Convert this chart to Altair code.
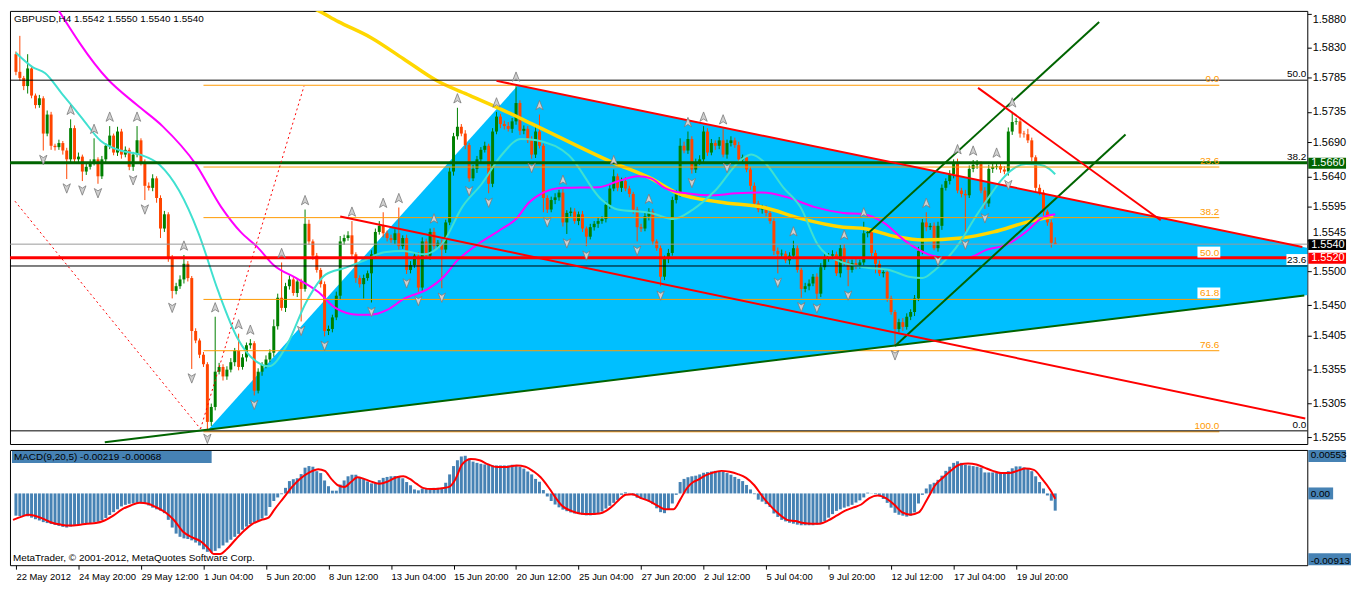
import altair as alt
import numpy as np
import pandas as pd

FONT = "Liberation Sans"
W, H_MAIN, H_MACD = 1306, 436, 116
X_DOMAIN = [-0.25, 329.25]
Y_DOMAIN = [1.52454, 1.58838]
M_DOMAIN = [-0.00913, 0.00553]

BULL, BEAR = "#008000", "#FF4500"
ORANGE = "#FF9900"
STEEL = "#4682B4"

# ---------------- price bars (H4), prices in 1/10000 ----------------
FIRST_OPEN = 15820
CLOSES = [
    15794, 15785, 15773, 15799, 15759, 15745, 15755, 15703, 15731, 15685,
    15683, 15689, 15678, 15665, 15711, 15665, 15669, 15647, 15654, 15661,
    15665, 15640, 15665, 15685, 15700, 15675, 15706, 15672, 15679, 15654,
    15672, 15693, 15661, 15626, 15623, 15637, 15608, 15563, 15584, 15520,
    15471, 15478, 15488, 15511, 15490, 15412, 15398, 15377, 15363, 15278,
    15300, 15352, 15359, 15345, 15355, 15366, 15383, 15359, 15373, 15391,
    15394, 15324, 15352, 15362, 15370, 15380, 15419, 15461, 15446, 15478,
    15488, 15468, 15485, 15474, 15570, 15544, 15523, 15502, 15481, 15412,
    15415, 15432, 15464, 15544, 15549, 15553, 15525, 15490, 15481, 15490,
    15497, 15525, 15558, 15567, 15556, 15549, 15546, 15556, 15537, 15549,
    15502, 15509, 15523, 15476, 15544, 15523, 15558, 15537, 15542, 15532,
    15572, 15647, 15699, 15713, 15703, 15686, 15637, 15651, 15665, 15679,
    15685, 15629, 15706, 15728, 15717, 15714, 15710, 15721, 15748, 15707,
    15710, 15693, 15672, 15706, 15685, 15608, 15591, 15605, 15609, 15616,
    15572, 15586, 15588, 15574, 15584, 15563, 15551, 15565, 15570, 15574,
    15577, 15598, 15622, 15640, 15623, 15633, 15622, 15614, 15591, 15565,
    15563, 15581, 15588, 15544, 15534, 15492, 15518, 15527, 15605, 15616,
    15685, 15678, 15695, 15650, 15661, 15665, 15706, 15675, 15689, 15685,
    15693, 15672, 15689, 15693, 15686, 15665, 15668, 15650, 15626, 15600,
    15591, 15593, 15586, 15574, 15530, 15525, 15526, 15516, 15523, 15534,
    15502, 15474, 15478, 15482, 15492, 15467, 15506, 15520, 15523, 15525,
    15497, 15534, 15513, 15502, 15512, 15509, 15513, 15556, 15558, 15527,
    15511, 15497, 15499, 15460, 15440, 15415, 15425, 15418, 15433, 15440,
    15460, 15530, 15572, 15565, 15567, 15534, 15567, 15623, 15633, 15643,
    15661, 15619, 15614, 15612, 15651, 15657, 15658, 15619, 15600, 15651,
    15654, 15655, 15650, 15647, 15706, 15720, 15721, 15703, 15702, 15693,
    15668, 15623, 15616, 15588, 15572, 15542, 15540,
]
# upper / lower shadow lengths in pips
WICK_UP = [
    4, 53, 3, 21, 4, 3, 5, 3, 6, 4,
    3, 5, 3, 4, 13, 4, 6, 3, 5, 4,
    31, 3, 5, 4, 14, 3, 7, 4, 5, 3,
    4, 21, 3, 4, 5, 6, 3, 4, 5, 3,
    4, 5, 6, 13, 4, 3, 4, 3, 4, 3,
    5, 81, 6, 4, 5, 6, 4, 25, 5, 4,
    6, 3, 5, 4, 6, 5, 10, 6, 52, 5,
    6, 4, 5, 4, 21, 6, 3, 4, 3, 4,
    5, 4, 6, 8, 5, 6, 21, 3, 4, 5,
    4, 6, 5, 7, 20, 4, 5, 6, 38, 4,
    5, 6, 4, 5, 6, 4, 5, 6, 4, 5,
    4, 6, 5, 28, 4, 5, 3, 6, 5, 4,
    6, 3, 5, 7, 4, 5, 6, 5, 25, 4,
    5, 4, 6, 7, 25, 3, 4, 5, 6, 4,
    5, 4, 6, 5, 4, 5, 3, 5, 4, 5,
    4, 5, 6, 10, 4, 5, 6, 4, 3, 4,
    5, 6, 5, 4, 3, 4, 5, 6, 5, 4,
    11, 6, 11, 4, 5, 6, 8, 5, 6, 4,
    5, 17, 5, 6, 4, 5, 4, 3, 4, 5,
    4, 5, 4, 3, 4, 5, 6, 4, 5, 11,
    4, 3, 5, 6, 4, 5, 6, 5, 4, 6,
    4, 5, 6, 4, 5, 6, 4, 17, 5, 6,
    4, 5, 4, 3, 4, 3, 5, 6, 5, 4,
    5, 6, 5, 15, 4, 5, 6, 5, 4, 6,
    4, 5, 4, 6, 5, 7, 6, 4, 5, 6,
    5, 6, 4, 5, 6, 15, 5, 6, 4, 8,
    4, 3, 5, 4, 3, 4, 8,
]
WICK_DN = [
    5, 4, 6, 11, 4, 5, 4, 25, 4, 6,
    5, 4, 6, 29, 5, 4, 6, 14, 5, 4,
    5, 11, 4, 6, 5, 4, 5, 6, 4, 5,
    6, 4, 5, 21, 4, 5, 7, 14, 5, 6,
    11, 5, 4, 6, 5, 56, 4, 5, 4, 11,
    6, 5, 4, 6, 5, 4, 6, 5, 4, 6,
    5, 7, 4, 6, 5, 4, 6, 5, 4, 6,
    5, 4, 6, 48, 4, 5, 6, 4, 5, 8,
    6, 5, 4, 6, 5, 4, 6, 7, 5, 21,
    4, 43, 5, 4, 6, 5, 4, 6, 5, 4,
    6, 5, 4, 6, 5, 4, 6, 5, 4, 57,
    5, 4, 6, 5, 4, 6, 5, 4, 6, 5,
    4, 14, 5, 4, 6, 5, 4, 6, 5, 6,
    5, 4, 6, 5, 4, 21, 5, 4, 6, 5,
    6, 17, 5, 4, 6, 5, 14, 4, 5, 6,
    4, 5, 6, 4, 5, 6, 4, 5, 6, 21,
    5, 4, 6, 5, 4, 14, 5, 6, 4, 5,
    6, 4, 5, 6, 5, 4, 6, 5, 4, 6,
    5, 4, 6, 5, 4, 6, 5, 4, 6, 5,
    4, 6, 5, 4, 6, 28, 5, 4, 6, 5,
    4, 13, 5, 6, 4, 8, 5, 4, 6, 5,
    4, 6, 5, 24, 4, 6, 5, 4, 6, 5,
    14, 4, 6, 5, 4, 25, 5, 6, 4, 5,
    6, 4, 5, 6, 4, 3, 5, 6, 4, 5,
    6, 4, 5, 59, 4, 5, 6, 4, 8, 5,
    6, 4, 5, 4, 6, 5, 4, 6, 5, 4,
    6, 5, 4, 6, 5, 7, 0,
]

DATE_LABELS = ["22 May 2012", "24 May 20:00", "29 May 12:00", "1 Jun 04:00", "5 Jun 20:00",
               "8 Jun 12:00", "13 Jun 04:00", "15 Jun 20:00", "20 Jun 12:00", "25 Jun 04:00",
               "27 Jun 20:00", "2 Jul 12:00", "5 Jul 04:00", "9 Jul 20:00", "12 Jul 12:00",
               "17 Jul 04:00", "19 Jul 20:00"]
DATE_STEP = 16
PRICE_TICKS = [1.5880, 1.5830, 1.5785, 1.5735, 1.5690, 1.5640, 1.5595, 1.5545,
               1.5500, 1.5450, 1.5405, 1.5355, 1.5305, 1.5255]
TOP_TICK = 1.5880      # sits at the top edge: label hangs below it
RAISED_TICK = 1.5545   # partly hidden by the bid box in the original; lifted above it

# ---------------- moving averages (bar, price/10000) ----------------
CYAN_BARS = [0, 4.25, 7.5, 11.75, 16.75, 21.75, 26.75, 31.75, 36.75, 41.75, 46.75, 51.75, 56.75,
             61.75, 64.75, 69.25, 74.25, 79.25, 84.25, 89.25, 94.25, 99.25, 104.25, 109.25, 114.25,
             119.25, 124.25, 129.25, 133.25, 141.5, 150, 154, 162.5, 168.25, 173.25, 179, 185.75,
             188.25, 191.5, 196.5, 200.75, 205.25, 210.25, 217, 223.5, 228.5, 232, 235.25, 238.5,
             242, 245.25, 248.5, 252, 255.25, 258.5, 262, 264.5, 266]
CYAN_VALS = [15822, 15801, 15792, 15762, 15727, 15692, 15678, 15672, 15657, 15619, 15556, 15471,
             15401, 15366, 15360, 15390, 15454, 15495, 15505, 15516, 15528, 15530, 15525, 15542,
             15595, 15629, 15671, 15695, 15693, 15671, 15605, 15591, 15586, 15577, 15591, 15619,
             15665, 15672, 15661, 15623, 15595, 15539, 15516, 15506, 15502, 15492, 15490, 15502,
             15520, 15546, 15577, 15605, 15633, 15651, 15658, 15657, 15651, 15643]
MAG_BARS = [9.25, 23.5, 31, 37.5, 46, 52.5, 57.5, 61.75, 66, 71.75, 77.5, 81.75, 87.5, 91, 95, 99.5,
            105.5, 109.5, 113, 118, 124.5, 128, 131.25, 135, 140, 149.25, 154.25, 159.25, 162.5,
            166, 170, 178.5, 184.25, 191, 197.5, 204.25, 211.75, 217, 222, 227.75, 233.5, 237.75,
            243.5, 248.5, 253.5, 258.5, 262.75, 266]
MAG_VALS = [15900, 15783, 15745, 15714, 15658, 15595, 15558, 15536, 15509, 15490, 15469, 15446,
            15436, 15436, 15443, 15460, 15474, 15492, 15516, 15539, 15563, 15577, 15601, 15616,
            15623, 15624, 15633, 15640, 15637, 15623, 15616, 15612, 15615, 15616, 15609, 15595,
            15586, 15584, 15572, 15544, 15525, 15520, 15520, 15532, 15539, 15558, 15579, 15584]
GOLD_BARS = [71.75, 76.75, 82.5, 91, 99.25, 108, 116.25, 124.5, 133.25, 152.5, 162.5, 169, 180,
             191.5, 200.75, 211.75, 217, 225.25, 232, 242, 250.25, 258.5, 265.5]
GOLD_VALS = [15898, 15886, 15868, 15844, 15813, 15780, 15759, 15738, 15714, 15661, 15637, 15616,
             15602, 15594, 15578, 15565, 15563, 15551, 15546, 15549, 15558, 15572, 15581]

# ---------------- drawn objects ----------------
TRI_A, TRI_B, TRI_C = (49.25, 1.52667), (128.5, 1.57742), (367.3, 1.54908)
RED_LINES = [[(123.0, 1.57807), (329.25, 1.55359)],
             [(83.0, 1.55808), (330.0, 1.52831)],
             [(246.25, 1.57704), (293.0, 1.55752)]]
GREEN_LINES = [[(22.75, 1.52480), (329.75, 1.54643)],
               [(218.25, 1.55569), (277.25, 1.58673)],
               [(225.0, 1.53898), (284.0, 1.57016)]]
DOTTED_LINES = [[(-0.25, 1.56033), (47.25, 1.52676)],
                [(47.25, 1.52676), (73.75, 1.57732)]]
FIB_HIGH, FIB_LOW = 1.57742, 1.52634
FIB_LEVELS = [0.0, 23.6, 38.2, 50.0, 61.8, 76.6, 100.0]
FIB_BOXED = ["50.0", "61.8"]
FIB_START, FIB_END = 48, 308
BLACK_LEVELS = [1.57817, 1.55078, 1.52648]
GREEN_LEVEL, RED_LEVEL, BID_LEVEL = 1.5660, 1.5520, 1.5540
RIGHT_LABELS = ["50.0", "38.2", "23.6", "0.0"]
RIGHT_LEVELS = [1.57817, 1.5660, 1.55078, 1.52648]
BOX_TEXTS = ["1.5660", "1.5540", "1.5520"]
BOX_LEVELS = [1.5660, 1.5540, 1.5520]
BOX_COLORS = ["#006400", "#000000", "#FF0000"]

# ---------------- MACD(9,20,5), values in 1e-5 ----------------
MACD_HIST = [
    -283, -287, -287, -291, -308, -328, -344, -365, -377, -389,
    -401, -413, -426, -434, -422, -405, -397, -385, -385, -377,
    -369, -360, -340, -312, -275, -238, -202, -165, -145, -132,
    -128, -120, -124, -132, -153, -181, -202, -218, -251, -336,
    -434, -511, -552, -572, -580, -597, -625, -662, -711, -743,
    -751, -731, -698, -662, -625, -589, -552, -515, -462, -422,
    -389, -369, -348, -320, -283, -173, -96, -51, -10, 71,
    157, 181, 193, 246, 328, 348, 340, 283, 259, 165,
    92, 35, 35, 112, 165, 218, 238, 238, 202, 185,
    153, 128, 132, 169, 198, 210, 218, 222, 214, 193,
    145, 104, 51, 39, 63, 63, 63, 71, 71, 71,
    136, 242, 348, 422, 470, 479, 438, 405, 389, 377,
    369, 365, 356, 356, 356, 356, 356, 365, 360, 340,
    316, 279, 242, 185, 149, 43, -39, -96, -141, -177,
    -206, -226, -242, -255, -263, -271, -279, -279, -271, -255,
    -230, -193, -157, -120, -83, -18, 14, 6, -26, -55,
    -67, -79, -100, -136, -189, -238, -251, -202, -128, -18,
    145, 185, 206, 218, 226, 242, 263, 271, 279, 287,
    287, 279, 259, 238, 210, 185, 157, 108, 51, -10,
    -79, -104, -136, -173, -255, -299, -336, -356, -373, -385,
    -397, -405, -405, -405, -405, -397, -381, -352, -308, -263,
    -222, -202, -181, -165, -145, -116, -88, -51, 10, 2,
    -10, -31, -71, -120, -181, -246, -271, -283, -295, -283,
    -242, -128, -18, 63, 116, 136, 173, 226, 287, 340,
    389, 409, 389, 365, 356, 348, 340, 328, 267, 267,
    267, 259, 259, 267, 283, 320, 344, 344, 332, 320,
    283, 218, 145, 63, -26, -92, -219,
]
SIG_BARS = [-0.75, 1.48, 3.16, 4.83, 7.06, 9.29, 11.53, 13.76, 15.99, 18.22, 20.46, 22.69, 24.92,
            27.15, 29.38, 31.62, 33.85, 36.08, 38.31, 40.54, 42.78, 45.01, 47.24, 49.47, 50.59,
            52.26, 53.94, 56.17, 58.4, 60.63, 62.87, 64.54, 66.21, 68.45, 70.68, 72.91, 75.14,
            77.38, 79.05, 80.72, 82.4, 84.07, 85.75, 87.42, 89.09, 90.77, 93.0, 95.23, 97.46,
            99.14, 100.81, 102.49, 104.16, 106.39, 108.63, 110.86, 112.53, 114.2, 116.44, 118.67,
            120.9, 123.13, 125.37, 128.16, 130.39, 132.62, 134.29, 136.53, 138.2, 139.88, 142.11,
            144.34, 146.57, 149.36, 151.04, 152.71, 154.38, 156.06, 157.73, 159.96, 162.2, 164.43,
            166.1, 168.33, 170.01, 171.68, 173.36,
            174.25, 176.35, 178.46, 180.56, 182.67, 184.77, 186.88, 188.98, 191.08, 193.19,
            195.29, 197.4, 199.5, 201.61, 203.71, 205.82, 207.92, 210.02, 212.13, 214.23,
            216.34, 218.44, 220.55, 222.65, 224.76, 226.86, 228.96, 231.07, 233.17, 235.28,
            237.38, 239.49, 241.59, 243.7, 245.8, 247.9, 250.01, 252.11, 254.22, 256.32,
            258.43, 260.53, 262.64, 264.74, 266.0]
SIG_VALS = [-336, -295, -271, -283, -324, -373, -397, -409, -401, -385,
            -377, -344, -283, -202, -153, -120, -132, -181, -242, -344,
            -487, -556, -609, -711, -772, -772, -711, -589, -475, -385,
            -336, -312, -202, -59, 83, 193, 267, 308, 287, 185,
            104, 83, 145, 206, 185, 153, 124, 153, 206, 218,
            185, 124, 71, 55, 63, 83, 185, 369, 438, 422,
            369, 336, 336, 356, 340, 275, 206, 63, -59, -161,
            -222, -255, -263, -255, -222, -161, -79, -18, -10, -59,
            -100, -161, -202, -202, -79, 63, 145,
            165, 226, 267, 287, 275, 246, 198, 104, -39, -161,
            -263, -336, -352, -377, -385, -385, -344, -283, -222, -181,
            -141, -59, -26, -59, -141, -242, -271, -242, -79, 104,
            206, 299, 369, 381, 369, 328, 287, 259, 259, 287,
            316, 299, 185, 43, -68]
MACD_TICKS = [0.00553, 0.0, -0.00913]
MACD_TICK_LABELS = ["0.00553", "0.00", "-0.00913"]

# ---------------- tables ----------------
n = min(len(CLOSES), len(WICK_UP), len(WICK_DN))
close = np.array(CLOSES[:n]) / 10000.0
open_ = np.concatenate([[FIRST_OPEN / 10000.0], close[:-1]])
high = np.maximum(open_, close) + np.array(WICK_UP[:n]) / 10000.0
low = np.minimum(open_, close) - np.array(WICK_DN[:n]) / 10000.0
candles = pd.DataFrame({"bar": np.arange(n), "open": open_, "close": close,
                        "high": high, "low": low,
                        "dir": np.where(close >= open_, "up", "down")})

up_fr = [i for i in range(2, n - 2) if high[i] > high[i - 1] and high[i] > high[i - 2]
         and high[i] >= high[i + 1] and high[i] >= high[i + 2]]
dn_fr = [i for i in range(2, n - 2) if low[i] < low[i - 1] and low[i] < low[i - 2]
         and low[i] <= low[i + 1] and low[i] <= low[i + 2]]
frac_up = pd.DataFrame({"bar": up_fr, "price": high[up_fr]})
frac_dn = pd.DataFrame({"bar": dn_fr, "price": low[dn_fr]})

low_b = TRI_A[1] + (TRI_C[1] - TRI_A[1]) * (TRI_B[0] - TRI_A[0]) / (TRI_C[0] - TRI_A[0])
tri = pd.DataFrame({"bar": [TRI_A[0], TRI_B[0], TRI_C[0]],
                    "upper": [TRI_A[1], TRI_B[1], TRI_C[1]],
                    "lower": [TRI_A[1], low_b, TRI_C[1]]})

fib = pd.DataFrame({"level": FIB_LEVELS})
fib["price"] = FIB_HIGH - (FIB_HIGH - FIB_LOW) * fib["level"] / 100.0
fib["start"] = FIB_START
fib["end"] = FIB_END
fib["label"] = ["%.1f" % v for v in FIB_LEVELS]

rows = []
for kind, segs in [("red", RED_LINES), ("green", GREEN_LINES), ("dot", DOTTED_LINES)]:
    for k, seg in enumerate(segs):
        for b, p in seg:
            rows.append({"seg": "%s%d" % (kind, k), "kind": kind, "bar": b, "price": p})
tl = pd.DataFrame(rows)

def ma_df(bars, vals):
    m = min(len(bars), len(vals))
    return pd.DataFrame({"bar": bars[:m], "price": np.array(vals[:m]) / 10000.0})

macd = pd.DataFrame({"bar": np.arange(len(MACD_HIST)), "v": np.array(MACD_HIST) / 1e5, "zero": 0.0})
ms_n = min(len(SIG_BARS), len(SIG_VALS))
sig = pd.DataFrame({"bar": SIG_BARS[:ms_n], "v": np.array(SIG_VALS[:ms_n]) / 1e5})

# ---------------- scales / axes ----------------
xs = alt.Scale(domain=X_DOMAIN, nice=False, zero=False)
ys = alt.Scale(domain=Y_DOMAIN, nice=False, zero=False)
msc = alt.Scale(domain=M_DOMAIN, nice=False, zero=False)

raised_test = "abs(datum.value - %.4f) < 0.00001" % RAISED_TICK
top_test = "abs(datum.value - %.4f) < 0.00001" % TOP_TICK
price_axis = alt.Axis(orient="right", values=PRICE_TICKS, format=".4f", labelFont=FONT,
                      labelFontSize=11, labelColor="black", tickColor="black", tickSize=4,
                      labelPadding=1, domain=False, grid=False,
                      labelOverlap=False, title=None,
                      labelBaseline={"condition": [{"test": raised_test, "value": "bottom"},
                                                   {"test": top_test, "value": "top"}],
                                     "value": "middle"},
                      labelOffset={"condition": {"test": raised_test, "value": -3},
                                   "value": 0})
label_expr = "[" + ",".join("'%s'" % s for s in DATE_LABELS) + "][round(datum.value / %d)]" % DATE_STEP
x_axis = alt.Axis(orient="bottom", values=list(range(0, DATE_STEP * len(DATE_LABELS), DATE_STEP)),
                  labelExpr=label_expr, labelAlign="left", labelBaseline="top", labelFont=FONT,
                  labelFontSize=9.5, labelColor="black", tickColor="black", tickSize=4,
                  labelPadding=2, domain=False, grid=False, labelFlush=False,
                  labelOverlap=False, title=None)
m_expr = ("datum.value > 0.001 ? '%s' : (datum.value < -0.001 ? '%s' : '%s')"
          % (MACD_TICK_LABELS[0], MACD_TICK_LABELS[2], MACD_TICK_LABELS[1]))
macd_axis = alt.Axis(orient="right", values=MACD_TICKS, labelExpr=m_expr, labelFont=FONT,
                     labelFontSize=10, labelColor="black", ticks=False,
                     labelPadding=3, domain=False, grid=False, labelFlush=True,
                     labelOverlap=False, zindex=1, title=None)

def X(f):
    return alt.X(f, type="quantitative", scale=xs, axis=None, title=None)

def Y(f):
    return alt.Y(f, type="quantitative", scale=ys, axis=price_axis, title=None)

def MX(f):
    return alt.X(f, type="quantitative", scale=xs, axis=x_axis, title=None)

def MY(f):
    return alt.Y(f, type="quantitative", scale=msc, axis=macd_axis, title=None)

def note(text, x, y, **kw):
    base = dict(font=FONT, fontSize=10, color="black", align="left", baseline="middle")
    base.update(kw)
    return alt.Chart(pd.DataFrame({"t": [text]})).mark_text(**base).encode(
        x=alt.value(x), y=alt.value(y), text="t:N")

def pbox(x1, x2, y1, y2, color):
    return alt.Chart(pd.DataFrame({"a": [0]})).mark_rect(color=color).encode(
        x=alt.value(x1), x2=alt.value(x2), y=alt.value(y1), y2=alt.value(y2))

UP_ARROW = "M0,-1L0.7,0.8L0,0.35L-0.7,0.8Z"
DN_ARROW = "M0,1L0.7,-0.8L0,-0.35L-0.7,-0.8Z"
dir_color = alt.Color("dir:N", scale=alt.Scale(domain=["up", "down"], range=[BULL, BEAR]), legend=None)

# ---------------- main panel ----------------
tri_layer = alt.Chart(tri).mark_area(color="#00BFFF", opacity=1, clip=True).encode(
    x=X("bar"), y=Y("upper"), y2="lower")
wicks = alt.Chart(candles).mark_rule(strokeWidth=1).encode(
    x=X("bar"), y=Y("low"), y2="high", color=dir_color)
bodies = alt.Chart(candles).mark_bar(size=3).encode(
    x=X("bar"), y=Y("open"), y2="close", color=dir_color)

def ma_line(bars, vals, color, width):
    return alt.Chart(ma_df(bars, vals)).mark_line(
        color=color, strokeWidth=width, interpolate="monotone", clip=True).encode(
        x=X("bar"), y=Y("price"))

gold = ma_line(GOLD_BARS, GOLD_VALS, "#FFD700", 3.5)
magenta = ma_line(MAG_BARS, MAG_VALS, "#FF00FF", 2)
cyan = ma_line(CYAN_BARS, CYAN_VALS, "#40E0D0", 2)

fib_rules = alt.Chart(fib).mark_rule(color=ORANGE, strokeWidth=1).encode(
    x=X("start"), x2="end", y=Y("price"))

def hrule(levels, color, width):
    return alt.Chart(pd.DataFrame({"price": levels})).mark_rule(
        color=color, strokeWidth=width).encode(y=Y("price"))

h_black = hrule(BLACK_LEVELS, "black", 1)
h_bid = hrule([BID_LEVEL], "#9A9A9A", 1)
h_green = hrule([GREEN_LEVEL], "#006400", 3)
h_red = hrule([RED_LEVEL], "#FF0000", 3)

red_tl = alt.Chart(tl[tl.kind == "red"]).mark_line(color="#FF0000", strokeWidth=2, clip=True).encode(
    x=X("bar"), y=Y("price"), detail="seg:N")
green_tl = alt.Chart(tl[tl.kind == "green"]).mark_line(color="#006400", strokeWidth=2, clip=True).encode(
    x=X("bar"), y=Y("price"), detail="seg:N")
dot_tl = alt.Chart(tl[tl.kind == "dot"]).mark_line(color="#FF0000", strokeWidth=1,
                                                   strokeDash=[2, 3], clip=True).encode(
    x=X("bar"), y=Y("price"), detail="seg:N")

fr_up = alt.Chart(frac_up).mark_point(shape=UP_ARROW, size=110, filled=True, fill="#D0D0D0",
                                      stroke="#7A7A7A", strokeWidth=0.8, opacity=1,
                                      yOffset=-9).encode(x=X("bar"), y=Y("price"))
fr_dn = alt.Chart(frac_dn).mark_point(shape=DN_ARROW, size=110, filled=True, fill="#D0D0D0",
                                      stroke="#7A7A7A", strokeWidth=0.8, opacity=1,
                                      yOffset=9).encode(x=X("bar"), y=Y("price"))

fib_boxes = alt.Chart(fib[fib.label.isin(FIB_BOXED)]).mark_rect(
    color="white", xOffset=-22, x2Offset=1, yOffset=-12, y2Offset=-1).encode(
    x=X("end"), x2="end", y=Y("price"), y2="price")
fib_text = alt.Chart(fib).mark_text(align="right", baseline="bottom", dy=-1, color=ORANGE,
                                    font=FONT, fontSize=10).encode(
    x=X("end"), y=Y("price"), text="label:N")

right = pd.DataFrame({"price": RIGHT_LEVELS, "label": RIGHT_LABELS})
right_box = alt.Chart(right[right.label == "23.6"]).mark_rect(
    color="white", yOffset=-12, y2Offset=-1).encode(
    x=alt.value(W - 21), x2=alt.value(W), y=Y("price"), y2="price")
right_text = alt.Chart(right).mark_text(align="right", baseline="bottom", dy=-1, color="black",
                                        font=FONT, fontSize=10).encode(
    x=alt.value(W - 1), y=Y("price"), text="label:N")

pb = pd.DataFrame({"price": BOX_LEVELS, "label": BOX_TEXTS, "bg": BOX_COLORS})
p_boxes = alt.Chart(pb).mark_rect(yOffset=-5, y2Offset=6).encode(
    x=alt.value(W + 1), x2=alt.value(W + 39), y=Y("price"), y2="price",
    color=alt.Color("bg:N", scale=None))
p_text = alt.Chart(pb).mark_text(align="left", baseline="middle", color="white", font=FONT,
                                 fontSize=11, dy=0.5).encode(
    x=alt.value(W + 4), y=Y("price"), text="label:N")

last = candles.iloc[-1]
header = note("GBPUSD,H4 %.4f %.4f %.4f %.4f" % (last.open, last.high, last.low, last.close), 4, 8)

main = alt.layer(tri_layer, wicks, bodies, gold, magenta, cyan, fib_rules, h_black, h_bid,
                 h_green, h_red, dot_tl, green_tl, red_tl, fr_up, fr_dn, fib_boxes, fib_text,
                 right_box, right_text, p_boxes, p_text, header).properties(width=W, height=H_MAIN)

# ---------------- MACD panel ----------------
hist = alt.Chart(macd).mark_bar(size=3, color=STEEL).encode(
    x=MX("bar"), y=MY("v"), y2="zero")
sig_line = alt.Chart(sig).mark_line(color="#FF0000", strokeWidth=2, interpolate="monotone",
                                    clip=True).encode(x=MX("bar"), y=MY("v"))

mt = pd.DataFrame({"v": MACD_TICKS})
mbox_top = alt.Chart(mt.iloc[[0]]).mark_rect(color=STEEL, yOffset=0, y2Offset=12).encode(
    x=alt.value(W + 1), x2=alt.value(W + 39), y=MY("v"), y2="v")
mbox_mid = alt.Chart(mt.iloc[[1]]).mark_rect(color=STEEL, yOffset=-6, y2Offset=6).encode(
    x=alt.value(W + 1), x2=alt.value(W + 26), y=MY("v"), y2="v")
mbox_bot = alt.Chart(mt.iloc[[2]]).mark_rect(color=STEEL, yOffset=-12, y2Offset=0).encode(
    x=alt.value(W + 1), x2=alt.value(W + 44), y=MY("v"), y2="v")

macd_title = "MACD(9,20,5) %.5f %.5f" % (MACD_HIST[-1] / 1e5, SIG_VALS[ms_n - 1] / 1e5)
m_head_box = pbox(2, 203, 1, 13, STEEL)
m_head = note(macd_title, 4, 7)
watermark = note("MetaTrader, \u00a9 2001-2012, MetaQuotes Software Corp.", 3, H_MACD - 7)

macd_chart = alt.layer(mbox_top, mbox_mid, mbox_bot, hist, sig_line, m_head_box, m_head,
                       watermark).properties(width=W, height=H_MACD)

chart = alt.vconcat(main, macd_chart, spacing=3).properties(
    padding=0, background="white").configure_view(stroke="black", strokeWidth=1)

chart.save("out.html", embed_options={"renderer": "svg", "actions": False})
